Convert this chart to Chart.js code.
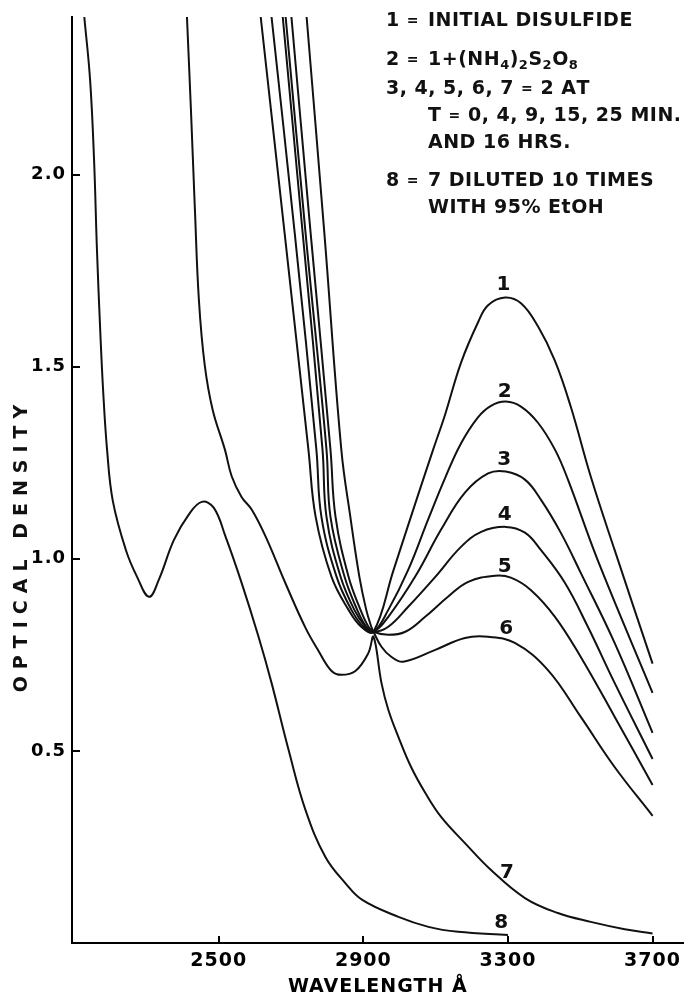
<!DOCTYPE html>
<html>
<head>
<meta charset="utf-8">
<script src="https://cdn.jsdelivr.net/npm/chart.js@4.4.1/dist/chart.umd.min.js"></script>
<style>
  html, body { margin: 0; padding: 0; background: #fff; }
</style>
</head>
<body>
<canvas id="chart" width="686" height="998"></canvas>
<script>
// absorption spectra, wavelength in angstrom vs optical density
const wl1 = [2616, 2682, 2748, 2768, 2812, 2859, 2894, 2928, 2983, 3038, 3093, 3126, 3170, 3217, 3245, 3292, 3336, 3383, 3430, 3474, 3529, 3595, 3700];
const od1 = [2.41, 1.849, 1.284, 1.109, 0.953, 0.867, 0.823, 0.81, 0.969, 1.128, 1.284, 1.375, 1.51, 1.615, 1.66, 1.68, 1.665, 1.605, 1.515, 1.395, 1.214, 1.023, 0.727];

const wl2 = [2646, 2710, 2770, 2784, 2826, 2867, 2900, 2928, 2969, 3024, 3079, 3126, 3170, 3217, 3253, 3294, 3336, 3383, 3430, 3466, 3548, 3700];
const od2 = [2.41, 1.849, 1.284, 1.109, 0.953, 0.867, 0.823, 0.81, 0.867, 0.971, 1.102, 1.21, 1.3, 1.368, 1.398, 1.409, 1.396, 1.354, 1.284, 1.206, 0.997, 0.651];

const wl3 = [2677, 2732, 2787, 2798, 2837, 2875, 2906, 2928, 2969, 3043, 3115, 3181, 3245, 3294, 3347, 3391, 3446, 3501, 3595, 3700];
const od3 = [2.41, 1.849, 1.284, 1.109, 0.953, 0.867, 0.823, 0.81, 0.849, 0.953, 1.076, 1.172, 1.222, 1.227, 1.206, 1.154, 1.068, 0.964, 0.781, 0.547];

const wl4 = [2685, 2740, 2798, 2809, 2848, 2883, 2908, 2928, 2969, 3024, 3099, 3170, 3226, 3294, 3347, 3391, 3457, 3521, 3595, 3700];
const od4 = [2.41, 1.849, 1.284, 1.109, 0.953, 0.867, 0.823, 0.81, 0.823, 0.875, 0.953, 1.031, 1.07, 1.083, 1.068, 1.023, 0.938, 0.823, 0.677, 0.479];

const wl5 = [2701, 2754, 2809, 2823, 2859, 2892, 2914, 2928, 2969, 3016, 3071, 3134, 3190, 3264, 3308, 3363, 3430, 3501, 3595, 3700];
const od5 = [2.41, 1.849, 1.284, 1.109, 0.953, 0.867, 0.823, 0.81, 0.802, 0.81, 0.849, 0.901, 0.94, 0.956, 0.951, 0.919, 0.849, 0.745, 0.589, 0.411];

const wl6 = [2743, 2792, 2839, 2864, 2889, 2908, 2922, 2928, 2950, 2977, 3010, 3099, 3181, 3245, 3319, 3410, 3501, 3595, 3700];
const od6 = [2.41, 1.849, 1.284, 1.109, 0.953, 0.867, 0.823, 0.81, 0.771, 0.745, 0.732, 0.763, 0.794, 0.797, 0.781, 0.711, 0.589, 0.458, 0.331];

const wl7 = [2412, 2423, 2434, 2445, 2461, 2483, 2517, 2536, 2563, 2591, 2630, 2685, 2740, 2776, 2812, 2839, 2878, 2914, 2928, 2950, 2969, 2997, 3032, 3071, 3115, 3181, 3253, 3347, 3438, 3529, 3623, 3700];
const od7 = [2.41, 2.169, 1.909, 1.674, 1.505, 1.388, 1.284, 1.214, 1.161, 1.128, 1.057, 0.935, 0.82, 0.76, 0.708, 0.698, 0.708, 0.755, 0.797, 0.677, 0.607, 0.536, 0.458, 0.391, 0.328, 0.26, 0.19, 0.117, 0.078, 0.055, 0.036, 0.025];

const wl8 = [2128, 2144, 2155, 2163, 2172, 2180, 2191, 2207, 2243, 2274, 2307, 2334, 2376, 2417, 2453, 2486, 2519, 2563, 2610, 2646, 2693, 2740, 2795, 2850, 2897, 2997, 3080, 3162, 3300];
const od8 = [2.41, 2.247, 2.039, 1.805, 1.596, 1.44, 1.284, 1.15, 1.023, 0.953, 0.901, 0.945, 1.049, 1.115, 1.148, 1.133, 1.057, 0.938, 0.797, 0.677, 0.503, 0.346, 0.224, 0.156, 0.112, 0.068, 0.042, 0.029, 0.021];

const xTicks = [2500, 2900, 3300, 3700];
const yTicks = [0.5, 1.0, 1.5, 2.0];

// curve numbers written on the plot
const curveNames = ['1', '2', '3', '4', '5', '6', '7', '8'];
const nameWl = [3288, 3292, 3290, 3292, 3292, 3296, 3298, 3282];
const nameOd = [1.714, 1.435, 1.258, 1.115, 0.979, 0.818, 0.182, 0.052];

// key text, top right ("_" marks a subscript)
const keyLead = ['1 = ', '2 = ', '3, 4, 5, 6, 7 = 2 AT', '', '', '8 = ', ''];
const keyBody = ['INITIAL DISULFIDE', '1+(NH_4)_2S_2O_8', '', 'T = 0, 4, 9, 15, 25 MIN.', 'AND 16 HRS.', '7 DILUTED 10 TIMES', 'WITH 95% EtOH'];

const FONT = '"DejaVu Sans", sans-serif';
Chart.defaults.font.family = FONT;
Chart.defaults.font.weight = 'bold';
Chart.defaults.color = '#000';

const curves = [[wl1, od1], [wl2, od2], [wl3, od3], [wl4, od4], [wl5, od5], [wl6, od6], [wl7, od7], [wl8, od8]];
const datasets = curves.map(([wl, od], k) => ({
  label: curveNames[k],
  data: wl.map((x, i) => ({ x: x, y: od[i] })),
  borderColor: '#111',
  borderWidth: 2,
  pointRadius: 0,
  fill: false,
  tension: 0.4
}));

// draws a string char by char, "_" lowers the next char, "=" is drawn small
function richText(ctx, str, x, y, size) {
  let cx = x;
  for (let i = 0; i < str.length; i++) {
    let ch = str[i];
    let sub = false;
    if (ch === '_') { sub = true; ch = str[++i]; }
    const s = sub ? Math.round(size * 0.7) : (ch === '=' ? Math.round(size * 0.75) : size);
    ctx.font = 'bold ' + s + 'px ' + FONT;
    ctx.fillText(ch, cx, sub ? y + size * 0.32 : y);
    cx += ctx.measureText(ch).width;
  }
}

const spacing = {
  id: 'spacing',
  beforeDraw(chart) { chart.ctx.letterSpacing = '1px'; }
};

const extras = {
  id: 'extras',
  afterDraw(chart) {
    const { ctx, chartArea, scales: { x, y } } = chart;
    ctx.save();
    ctx.strokeStyle = '#000';
    ctx.lineWidth = 2;
    // tick marks point into the plot
    ctx.beginPath();
    xTicks.forEach(v => {
      const px = Math.round(x.getPixelForValue(v));
      ctx.moveTo(px, chartArea.bottom);
      ctx.lineTo(px, chartArea.bottom - 7);
    });
    yTicks.forEach(v => {
      const py = Math.round(y.getPixelForValue(v));
      ctx.moveTo(chartArea.left, py);
      ctx.lineTo(chartArea.left + 8, py);
    });
    ctx.stroke();

    ctx.fillStyle = '#111';
    ctx.letterSpacing = '0.5px';
    ctx.textBaseline = 'middle';

    // curve numbers
    ctx.textAlign = 'center';
    ctx.font = 'bold 20px ' + FONT;
    curveNames.forEach((t, i) => {
      ctx.fillText(t, x.getPixelForValue(nameWl[i]), y.getPixelForValue(nameOd[i]));
    });

    // y axis title
    ctx.save();
    ctx.translate(22, 548);
    ctx.rotate(-Math.PI / 2);
    ctx.font = 'bold 19px ' + FONT;
    ctx.letterSpacing = '7px';
    ctx.fillText('OPTICAL DENSITY', 3, 0);
    ctx.restore();

    // key
    ctx.textAlign = 'left';
    ctx.letterSpacing = '0.5px';
    const rows = [21, 60, 89, 116, 143, 181, 208];
    keyLead.forEach((t, i) => {
      if (t) richText(ctx, t, 386, rows[i], 19);
      if (keyBody[i]) richText(ctx, keyBody[i], 428, rows[i], 19);
    });
    ctx.restore();
  }
};

new Chart(document.getElementById('chart').getContext('2d'), {
  type: 'line',
  data: { datasets },
  plugins: [spacing, extras],
  options: {
    responsive: false,
    animation: false,
    layout: { padding: { top: 17, right: 0, bottom: 0, left: 0 } },
    plugins: {
      legend: { display: false },
      tooltip: { enabled: false }
    },
    scales: {
      x: {
        type: 'linear',
        min: 2094,
        max: 3786,
        afterBuildTicks: s => { s.ticks = xTicks.map(v => ({ value: v })); },
        afterFit: s => { s.height = 55; },
        grid: { display: false, drawTicks: false },
        border: { display: true, color: '#000', width: 2 },
        ticks: { color: '#000', padding: 7, maxRotation: 0, font: { size: 19 }, callback: v => String(v) },
        title: {
          display: true,
          text: 'WAVELENGTH Å',
          color: '#000',
          font: { size: 19 },
          padding: { top: 0, bottom: 0 }
        }
      },
      y: {
        min: 0,
        max: 2.41,
        afterBuildTicks: s => { s.ticks = yTicks.map(v => ({ value: v })); },
        afterFit: s => { s.width = 72; },
        grid: { display: false, drawTicks: false },
        border: { display: true, color: '#000', width: 2 },
        ticks: { color: '#000', padding: 6, font: { size: 18 }, callback: v => v.toFixed(1) }
      }
    }
  }
});
</script>
</body>
</html>
